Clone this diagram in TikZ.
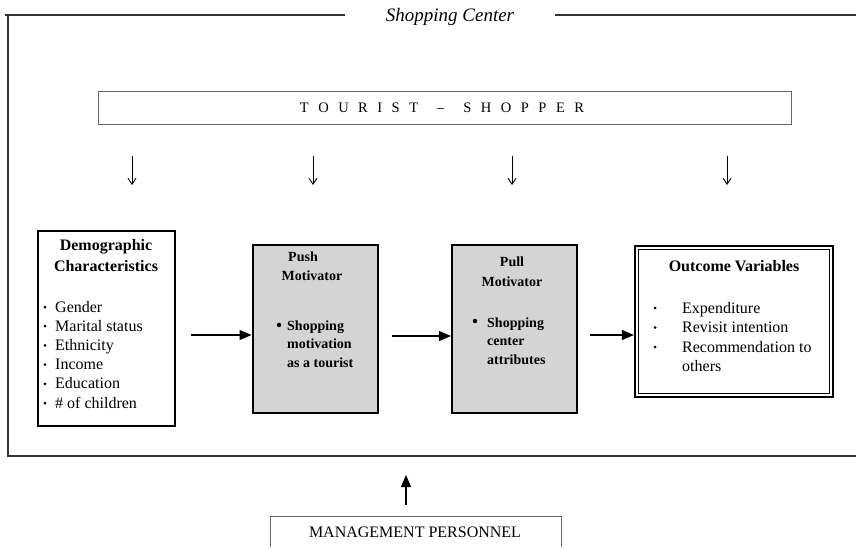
\documentclass[tikz,border=0pt]{standalone}
\usepackage{fontspec}
\setmainfont{Liberation Serif}
\usetikzlibrary{arrows.meta}
\newcommand\lsp{\hspace{9.5pt}}
\begin{document}
\begin{tikzpicture}[x=1pt,y=-1pt,
  frameline/.style={draw=black!80,line width=1.1pt},
  thinbox/.style={draw=black!60,line width=0.6pt},
  thickbox/.style={draw=black,line width=2pt},
  conn/.style={draw=black,line width=1.1pt,-{Triangle[length=12pt,width=10pt]}},
  downarr/.style={draw=black,line width=0.9pt,-{Straight Barb[length=6pt,width=8pt]}},
  bodytxt/.style={inner sep=0,font=\fontsize{16}{19}\selectfont},
  boldtxt/.style={inner sep=0,font=\fontsize{16}{19}\selectfont\bfseries},
  smalltxt/.style={inner sep=0,font=\fontsize{14}{17}\selectfont\bfseries},
  bul/.style={circle,fill=black,inner sep=0,minimum size=3pt},
  bigbul/.style={circle,fill=black,inner sep=0,minimum size=4.5pt}
]
\useasboundingbox (0,0) rectangle (856,547);
\fill[white] (0,0) rectangle (856,547);
% outer frame
\coordinate (tl) at (8,15);
\coordinate (bl) at (8,456);
\coordinate (br) at (856,456);
\coordinate (t1) at (5,15);
\coordinate (t2) at (345,15);
\coordinate (t3) at (555,15);
\coordinate (t4) at (856,15);
\draw[frameline] (t1) -- (t2);
\draw[frameline] (t3) -- (t4);
\draw[frameline] (tl) -- (bl) -- (br);
\node[inner sep=0,font=\fontsize{19}{22}\selectfont\itshape] (sc) at (450,17) {Shopping Center};
% tourist shopper
\draw[thinbox] (98,91) rectangle (791,124);
\node[inner sep=0,font=\fontsize{14.5}{17}\selectfont] (ts) at (442,108) {T\lsp O\lsp U\lsp R\lsp I\lsp S\lsp T\lsp\lsp --\lsp\lsp S\lsp H\lsp O\lsp P\lsp P\lsp E\lsp R};
% down arrows
\foreach \x [count=\i] in {132,313,512,727} {
  \coordinate (da\i) at (\x,156);
  \coordinate (db\i) at (\x,185);
  \draw[downarr] (da\i) -- (db\i);
}
% Demographic box
\node[thickbox,minimum width=137pt,minimum height=195pt,inner sep=0] (demo) at (106,328.5) {};
\node[boldtxt] (demot1) at (106,247) {Demographic};
\node[boldtxt] (demot2) at (106,266) {Characteristics};
\foreach \t [count=\i] in {Gender,Marital status,Ethnicity,Income,Education,\# of children} {
  \node[bodytxt,anchor=base west] (dl\i) at (55,{312+19.2*(\i-1)}) {\t};
  \node[bul] (db\i) at (45,{307+19.2*(\i-1)}) {};
}
% Push box
\node[thickbox,fill=black!17,minimum width=125pt,minimum height=168pt,inner sep=0] (push) at (315,329) {};
\node[smalltxt] (pusht1) at (303,257) {Push};
\node[smalltxt] (pusht2) at (312,276) {Motivator};
\node[bigbul] (pushb) at (279,325) {};
\foreach \t [count=\i] in {Shopping,motivation,as a tourist} {
  \node[smalltxt,anchor=base west] (pl\i) at (287,{330+18.5*(\i-1)}) {\t};
}
% Pull box
\node[thickbox,fill=black!17,minimum width=125pt,minimum height=168pt,inner sep=0] (pull) at (514.5,329) {};
\node[smalltxt] (pullt1) at (512,262) {Pull};
\node[smalltxt] (pullt2) at (512,282) {Motivator};
\node[bigbul] (pullb) at (475,321) {};
\foreach \t [count=\i] in {Shopping,center,attributes} {
  \node[smalltxt,anchor=base west] (ql\i) at (487,{327+18.5*(\i-1)}) {\t};
}
% Outcome box
\node[draw=black,line width=2.2pt,minimum width=198pt,minimum height=151pt,inner sep=0] (out) at (734,321.5) {};
\draw[black,line width=0.7pt] ([shift={(4.5pt,-4.5pt)}]out.north west) rectangle ([shift={(-4.5pt,4.5pt)}]out.south east);
\node[boldtxt] (outt) at (734,266) {Outcome Variables};
\foreach \t [count=\i] in {Expenditure,Revisit intention,Recommendation to} {
  \node[bodytxt,anchor=base west] (ol\i) at (682,{313+19.5*(\i-1)}) {\t};
  \node[bul] (ob\i) at (655,{308+19.5*(\i-1)}) {};
}
\node[bodytxt,anchor=base west] (ol4) at (682,{313+19.5*3}) {others};
% connectors
\draw[conn] (demo.east) ++(15pt,-6.5pt) coordinate (c1) -- (push.west |- c1) ;
\draw[conn] (push.east) ++(13pt,-7pt) coordinate (c2) -- (pull.west |- c2);
\draw[conn] (pull.east) ++(12pt,-6pt) coordinate (c3) -- (out.west |- c3);
% management
\node[inner sep=0,font=\fontsize{16}{19}\selectfont] (mp) at (415,532) {MANAGEMENT PERSONNEL};
\draw[thinbox] (270,547) -- (270,516) -- (561,516) -- (561,547);
\coordinate (mpt) at (406,505);
\coordinate (mph) at (406,475);
\draw[conn] (mpt) -- (mph);
\end{tikzpicture}
\end{document}
